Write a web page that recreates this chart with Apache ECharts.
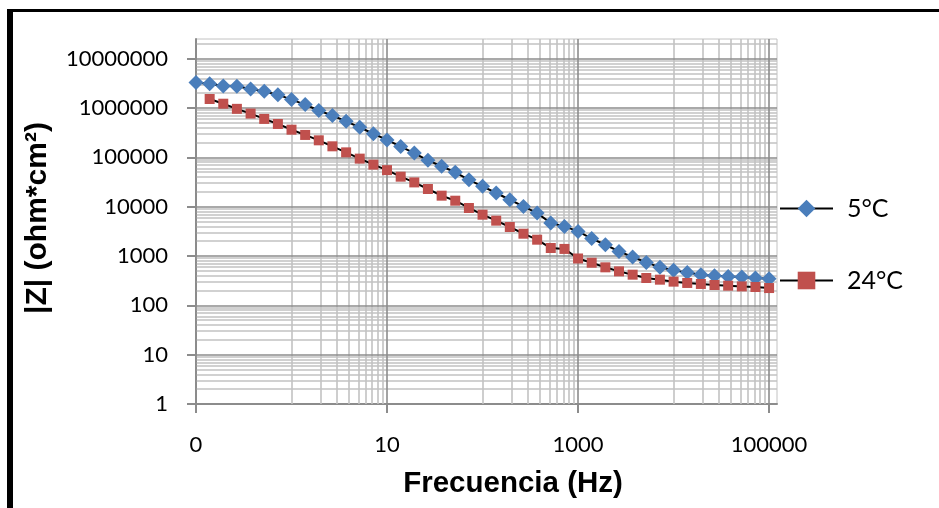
<!DOCTYPE html>
<html><head><meta charset="utf-8">
<script src="https://cdn.jsdelivr.net/npm/echarts@6/dist/echarts.min.js"></script>
<style>html,body{margin:0;padding:0;background:#fff}#c{width:939px;height:508px}</style>
</head><body><div id="c"></div>
<script>
// Frequencies (Hz), 7 points per decade
const frequencies = [0.1, 0.139, 0.193, 0.268, 0.373, 0.518, 0.72, 1, 1.39, 1.93, 2.68, 3.73, 5.18, 7.2,
  10, 13.9, 19.3, 26.8, 37.3, 51.8, 72, 100, 139, 193, 268, 373, 518, 720,
  1000, 1389, 1931, 2683, 3728, 5179, 7197, 10000, 13895, 19307, 26827, 37276, 51795, 71969, 100000];
// |Z| at 5°C
const z5C = [3300000, 3100000, 2800000, 2750000, 2430000, 2170000, 1860000, 1480000, 1170000, 890000,
  700000, 537000, 405000, 300000, 225000, 165000, 122000, 87000, 66000, 49600,
  35000, 25800, 18900, 13800, 10100, 7400, 4670, 3980, 3150, 2250,
  1690, 1240, 955, 741, 589, 511, 465, 417, 398, 386, 375, 358, 347];
// Frequencies of 24°C series (starts one step later)
const freq24C = [0.139, 0.193, 0.268, 0.373, 0.518, 0.72, 1, 1.39, 1.93, 2.68, 3.73, 5.18, 7.2,
  10, 13.9, 19.3, 26.8, 37.3, 51.8, 72, 100, 139, 193, 268, 373, 518, 720,
  1000, 1389, 1931, 2683, 3728, 5179, 7197, 10000, 13895, 19307, 26827, 37276, 51795, 71969, 100000];
// |Z| at 24°C
const z24C = [1520000, 1220000, 960000, 770000, 600000, 474000, 363000, 284000, 221000, 167000,
  126000, 94000, 71000, 55000, 40500, 31000, 22800, 16700, 13200, 9400,
  6870, 5200, 3870, 2830, 2140, 1450, 1390, 890, 730, 589,
  488, 418, 358, 331, 302, 284, 271, 258, 250, 242, 235, 224];
const seriesNames = ['5°C', '24°C'];
const xTickValues = [0.1, 10, 1000, 100000];
const xTickLabels = ['0', '10', '1000', '100000'];
const yTickValues = [1, 10, 100, 1000, 10000, 100000, 1000000, 10000000];
const yTickLabels = ['1', '10', '100', '1000', '10000', '100000', '1000000', '10000000'];
const xMinorMultipliers = [1, 2, 3, 4, 5, 6, 7, 8, 9];
const xMinorDecades = [1, 100, 10000];
const yMinorMultipliers = [2, 3, 4, 5, 6, 7, 8, 9];
const yMinorDecades = [1, 10, 100, 1000, 10000, 100000, 1000000, 10000000];

const X_MIN = 0.1, X_MAX = 121000, Y_MIN = 1, Y_MAX = 25000000;

function lookupLabel(values, labels, v) {
  for (let i = 0; i < values.length; i++) {
    if (Math.abs(v - values[i]) <= values[i] * 1e-6) return labels[i];
  }
  return '';
}

const minorStyle = {color: '#c2c2c2', width: 1.6, type: 'solid'};
const majorStyle = {color: '#8c8c8c', width: 1.6, type: 'solid'};
const gridLines = [];
xMinorDecades.forEach(d => xMinorMultipliers.forEach(m => {
  const v = d * m;
  if (v <= X_MAX) gridLines.push({xAxis: v, lineStyle: minorStyle});
}));
yMinorDecades.forEach(d => yMinorMultipliers.forEach(m => {
  const v = d * m;
  if (v <= Y_MAX) gridLines.push({yAxis: v, lineStyle: minorStyle});
}));
xTickValues.forEach(v => gridLines.push({xAxis: v, lineStyle: majorStyle}));
yTickValues.forEach(v => { if (v > Y_MIN) gridLines.push({yAxis: v, lineStyle: majorStyle}); });

const chart = echarts.init(document.getElementById('c'), null, {renderer: 'canvas'});
chart.setOption({
  animation: false,
  backgroundColor: '#fff',
  grid: {left: 196, right: 162, top: 39, bottom: 104, show: true, borderColor: '#c2c2c2', borderWidth: 1, backgroundColor: '#fff'},
  xAxis: {
    type: 'log', logBase: 10, min: X_MIN, max: X_MAX,
    axisLine: {show: true, lineStyle: {color: '#8c8c8c', width: 2}},
    axisTick: {show: true, inside: false, length: 9, lineStyle: {color: '#8c8c8c', width: 2}, customValues: xTickValues},
    axisLabel: {customValues: xTickValues, margin: 30, color: '#000', fontFamily: 'Lato', fontSize: 22,
      formatter: v => lookupLabel(xTickValues, xTickLabels, v)},
    splitLine: {show: false}, minorTick: {show: false}, minorSplitLine: {show: false}
  },
  yAxis: {
    type: 'log', logBase: 10, min: Y_MIN, max: Y_MAX,
    axisLine: {show: true, lineStyle: {color: '#8c8c8c', width: 2}},
    axisTick: {show: true, inside: false, length: 9, lineStyle: {color: '#8c8c8c', width: 2}, customValues: yTickValues},
    axisLabel: {customValues: yTickValues, margin: 28, color: '#000', fontFamily: 'Lato', fontSize: 22,
      formatter: v => lookupLabel(yTickValues, yTickLabels, v)},
    splitLine: {show: false}, minorTick: {show: false}, minorSplitLine: {show: false}
  },
  legend: {
    data: seriesNames, orient: 'vertical', left: 774, top: 191, itemGap: 47,
    itemWidth: 53, itemHeight: 22,
    textStyle: {fontFamily: 'Lato', fontSize: 25, color: '#000', padding: [0, 0, 0, 9]}
  },
  graphic: [
    {type: 'rect', shape: {x: 7, y: 9, width: 6, height: 499}, style: {fill: '#000'}, silent: true},
    {type: 'rect', shape: {x: 7, y: 9, width: 932, height: 3}, style: {fill: '#000'}, silent: true},
    {type: 'text', x: 513, y: 484, silent: true,
      style: {text: 'Frecuencia (Hz)', textAlign: 'center', textVerticalAlign: 'middle',
        font: 'bold 29.5px "Liberation Sans", Arial, sans-serif', fill: '#000'}},
    {type: 'text', x: 38, y: 218, rotation: Math.PI / 2, silent: true,
      style: {text: '|Z| (ohm*cm²)', textAlign: 'center', textVerticalAlign: 'middle',
        font: 'bold 30px "Liberation Sans", Arial, sans-serif', fill: '#000'}}
  ],
  series: [
    {
      name: 'grid', type: 'line', data: [], silent: true, z: 1,
      markLine: {silent: true, symbol: 'none', label: {show: false}, z: 1, animation: false, data: gridLines}
    },
    {
      name: seriesNames[0], type: 'line', z: 3,
      data: frequencies.map((f, i) => [f, z5C[i]]),
      symbol: 'diamond', symbolSize: 15, showAllSymbol: true,
      itemStyle: {color: '#4A7EBB'}, lineStyle: {color: '#000', width: 2}
    },
    {
      name: seriesNames[1], type: 'line', z: 3,
      data: freq24C.map((f, i) => [f, z24C[i]]),
      symbol: 'rect', symbolSize: 10, showAllSymbol: true,
      itemStyle: {color: '#C0504D'}, lineStyle: {color: '#000', width: 2}
    }
  ]
});
</script></body></html>
